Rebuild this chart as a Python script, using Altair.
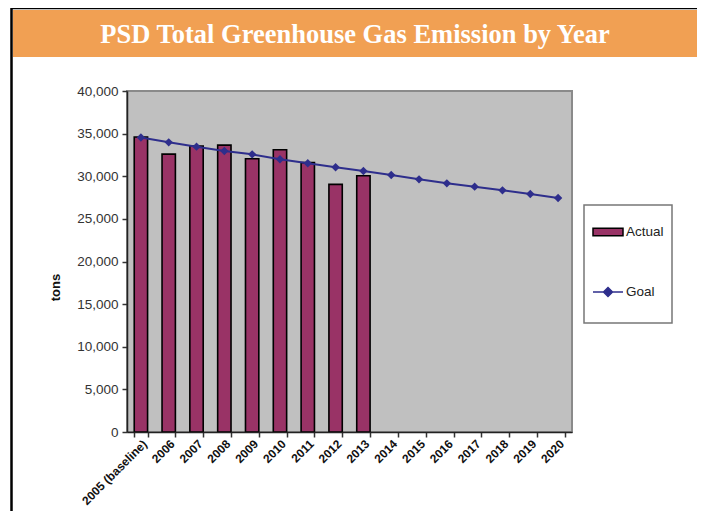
import altair as alt
import pandas as pd

years = ["2005 (baseline)", "2006", "2007", "2008", "2009", "2010", "2011", "2012",
         "2013", "2014", "2015", "2016", "2017", "2018", "2019", "2020"]
actual_years = years[:9]
actual = [34600, 32600, 33550, 33650, 32050, 33100, 31600, 29050, 30050]
goal = [34550, 33980, 33470, 32960, 32570, 31990, 31520, 31050, 30610,
        30150, 29640, 29170, 28780, 28350, 27920, 27450]
y_ticks = [0, 5000, 10000, 15000, 20000, 25000, 30000, 35000, 40000]
title_text = "PSD Total Greenhouse Gas Emission by Year"

df_act = pd.DataFrame({"year": actual_years, "tons": actual, "series": "Actual"})
df_goal = pd.DataFrame({"year": years, "tons": goal, "series": "Goal"})
one = pd.DataFrame({"k": [0]})

BAR = "#993366"
NAVY = "#2E2E8C"
W, H = 445, 341

xenc = alt.X("year:N", sort=years,
             scale=alt.Scale(domain=years, paddingInner=0.52, paddingOuter=0.26),
             axis=alt.Axis(title=None, labelAngle=-45, labelFont="Liberation Sans",
                           labelFontSize=12, labelFontWeight="bold", labelColor="#111",
                           tickBand="extent", tickSize=5, tickColor="#333", tickWidth=1.5,
                           domainColor="#222", domainWidth=1.5, labelPadding=1, zindex=1))
yenc = alt.Y("tons:Q", scale=alt.Scale(domain=[0, 40000]),
             axis=alt.Axis(title="tons", values=y_ticks, format=",.0f",
                           labelFont="Liberation Sans", labelFontSize=13.5, labelColor="#333",
                           tickSize=5, tickColor="#333", tickWidth=1.5, grid=False,
                           domainColor="#222", domainWidth=1.5, labelPadding=4,
                           titleFont="Liberation Sans", titleFontSize=13, titleFontWeight="bold",
                           titleColor="#111", titleX=-72, titleY=196, titleAngle=-90,
                           titleBaseline="middle", titleAlign="center", zindex=1))

frame = alt.Chart(one).mark_rect(fillOpacity=0, stroke="black", strokeWidth=2.5).encode(
    x=alt.value(-115.5), x2=alt.value(572), y=alt.value(-83), y2=alt.value(440))
band = alt.Chart(one).mark_rect(fill="#F1A053").encode(
    x=alt.value(-114), x2=alt.value(571), y=alt.value(-81), y2=alt.value(-34))
title = alt.Chart(one).mark_text(font="Liberation Serif", fontSize=26.5, fontWeight="bold",
                                 color="white", align="center", baseline="alphabetic").encode(
    x=alt.value(228), y=alt.value(-48), text=alt.value(title_text))
legbox = alt.Chart(one).mark_rect(fill="white", stroke="#777", strokeWidth=1.5).encode(
    x=alt.value(457), x2=alt.value(545), y=alt.value(114), y2=alt.value(232))

bars = alt.Chart(df_act).mark_bar(stroke="black", strokeWidth=1.6).encode(
    x=xenc, y=yenc,
    fill=alt.Fill("series:N", scale=alt.Scale(domain=["Actual"], range=[BAR]),
                  legend=alt.Legend(title=None, orient="none", legendX=465, legendY=125,
                                    symbolType="M-1,-0.25H1V0.25H-1Z", symbolSize=900,
                                    symbolStrokeColor="black", symbolStrokeWidth=1.5,
                                    labelFont="Liberation Sans", labelFontSize=13.5,
                                    labelColor="#222", labelOffset=2, padding=0)))
line = alt.Chart(df_goal).mark_line(strokeWidth=2).encode(
    x=xenc, y=yenc,
    stroke=alt.Stroke("series:N", scale=alt.Scale(domain=["Goal"], range=[NAVY]),
                      legend=alt.Legend(title=None, orient="none", legendX=465, legendY=185,
                                        symbolType="M-1,0H1M0,-0.3L0.3,0L0,0.3L-0.3,0Z",
                                        symbolSize=900, symbolFillColor=NAVY,
                                        symbolStrokeWidth=1.5,
                                        labelFont="Liberation Sans", labelFontSize=13.5,
                                        labelColor="#222", labelOffset=2, padding=0)))
pts = alt.Chart(df_goal).mark_point(shape="diamond", filled=True, size=70, color=NAVY,
                                    opacity=1).encode(x=xenc, y=yenc)

chart = alt.layer(frame, band, title, legbox, bars, line, pts).properties(
    width=W, height=H,
    background="white",
    autosize=alt.AutoSizeParams(type="none"),
    padding={"left": 119, "top": 83, "right": 125, "bottom": 79},
).configure_view(fill="#C0C0C0", stroke="#8A8A8A", strokeWidth=2)

chart.save("out.html", embed_options={"renderer": "svg", "actions": False})
